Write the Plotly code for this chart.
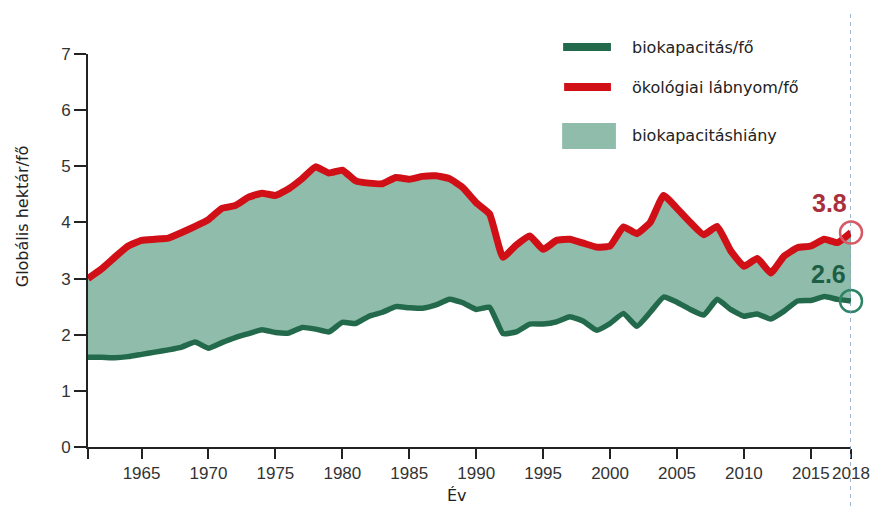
import plotly.graph_objects as go

# year-by-year values
years = list(range(1961, 2019))
biocapacity = [
    1.60, 1.60, 1.59, 1.61, 1.65, 1.69, 1.73, 1.78, 1.87, 1.76,
    1.86, 1.95, 2.02, 2.09, 2.04, 2.03, 2.13, 2.10, 2.05, 2.22,
    2.20, 2.33, 2.40, 2.50, 2.48, 2.47, 2.53, 2.63, 2.57, 2.45,
    2.49, 2.02, 2.05, 2.19, 2.19, 2.23, 2.32, 2.24, 2.08, 2.20,
    2.38, 2.15, 2.40, 2.67, 2.58, 2.45, 2.35, 2.63, 2.45, 2.33,
    2.37, 2.28, 2.42, 2.60, 2.61, 2.68, 2.63, 2.60,
]
footprint = [
    3.00, 3.17, 3.38, 3.58, 3.68, 3.70, 3.72, 3.82, 3.93, 4.05,
    4.25, 4.30, 4.45, 4.52, 4.48, 4.60, 4.78, 4.99, 4.88, 4.93,
    4.74, 4.70, 4.69, 4.80, 4.77, 4.82, 4.83, 4.78, 4.62, 4.35,
    4.15, 3.38, 3.60, 3.76, 3.52, 3.68, 3.70, 3.63, 3.56, 3.58,
    3.92, 3.80, 4.00, 4.48, 4.25, 4.00, 3.78, 3.93, 3.50, 3.22,
    3.36, 3.10, 3.40, 3.55, 3.58, 3.70, 3.64, 3.82,
]
x_ticks = [1961, 1965, 1970, 1975, 1980, 1985, 1990, 1995, 2000, 2005, 2010, 2015, 2018]
x_labels = [""] + [str(v) for v in x_ticks[1:]]
y_ticks = [0, 1, 2, 3, 4, 5, 6, 7]

legend_names = ["biokapacitás/fő", "ökológiai lábnyom/fő", "biokapacitáshiány"]

GREEN = "#236a4c"
RED = "#d10f16"
FILL = "#8fbcab"

# the page body has an 8px margin, so the figure sits at (8, 8) on screen
OFF = 8
W, H = 882 - OFF, 506 - OFF
# plot area in screen pixels: x 88..854, y 54..447
L, R, T, B = 88 - OFF, W - (854 - OFF), 54 - OFF, H - (447 - OFF)
PW, PH = W - L - R, H - T - B


def px(x, y):
    # screen pixel -> paper coordinates
    return (x - OFF - L) / PW, (H - B - (y - OFF)) / PH


fig = go.Figure()

# deficit area between the two curves
fig.add_trace(go.Scatter(x=years, y=biocapacity, mode="lines",
                         line=dict(width=0, shape="spline", smoothing=0.4),
                         showlegend=False, hoverinfo="skip"))
fig.add_trace(go.Scatter(x=years, y=footprint, mode="lines", fill="tonexty",
                         fillcolor=FILL, line=dict(width=0, shape="spline", smoothing=0.4),
                         showlegend=False, hoverinfo="skip"))

fig.add_trace(go.Scatter(x=years, y=biocapacity, mode="lines", name=legend_names[0],
                         line=dict(color=GREEN, width=5.5, shape="spline", smoothing=0.4),
                         showlegend=False))
fig.add_trace(go.Scatter(x=years, y=footprint, mode="lines", name=legend_names[1],
                         line=dict(color=RED, width=7, shape="spline", smoothing=0.4),
                         showlegend=False))

# end-point rings
fig.add_trace(go.Scatter(x=[years[-1]], y=[footprint[-1]], mode="markers",
                         marker=dict(size=22, color="rgba(0,0,0,0)",
                                     line=dict(color="#d65a66", width=2.5)),
                         cliponaxis=False, showlegend=False))
fig.add_trace(go.Scatter(x=[years[-1]], y=[biocapacity[-1]], mode="markers",
                         marker=dict(size=22, color="rgba(0,0,0,0)",
                                     line=dict(color="#2e8566", width=2.5)),
                         cliponaxis=False, showlegend=False))

shapes = [
    dict(type="line", xref="x", yref="paper", x0=years[-1], x1=years[-1],
         y0=px(0, 506)[1], y1=px(0, 12)[1],
         line=dict(color="#7f9fc0", width=1.5, dash="4px,4px")),
]
# hand-drawn legend
x0, y0 = px(565, 47)
x1, _ = px(613, 47)
shapes.append(dict(type="line", xref="paper", yref="paper", x0=x0, x1=x1, y0=y0, y1=y0,
                   line=dict(color=GREEN, width=8)))
x0, y0 = px(566, 87)
x1, _ = px(613, 87)
shapes.append(dict(type="line", xref="paper", yref="paper", x0=x0, x1=x1, y0=y0, y1=y0,
                   line=dict(color=RED, width=8)))
x0, y0 = px(564, 149)
x1, y1 = px(618, 123)
shapes.append(dict(type="rect", xref="paper", yref="paper", x0=x0, x1=x1, y0=y0, y1=y1,
                   fillcolor=FILL, line=dict(width=0)))

annotations = []
for name, ypix in zip(legend_names, [47, 87, 136]):
    ax, ay = px(632, ypix)
    annotations.append(dict(xref="paper", yref="paper", x=ax, y=ay, text=name,
                            showarrow=False, xanchor="left", yanchor="middle",
                            font=dict(family="DejaVu Sans", size=16, color="#222")))

annotations.append(dict(x=years[-1], y=footprint[-1], text=f"{footprint[-1]:.1f}",
                        showarrow=False, xshift=-22, yshift=30,
                        xanchor="center", yanchor="middle",
                        font=dict(family="Liberation Sans", size=25, color="#a8303c",
                                  weight="bold")))
annotations.append(dict(x=years[-1], y=biocapacity[-1], text=f"{biocapacity[-1]:.1f}",
                        showarrow=False, xshift=-23, yshift=27,
                        xanchor="center", yanchor="middle",
                        font=dict(family="Liberation Sans", size=25, color="#1d5e45",
                                  weight="bold")))

ax, ay = px(22, 216)
annotations.append(dict(xref="paper", yref="paper", x=ax, y=ay, text="Globális hektár/fő",
                        textangle=-90, showarrow=False, xanchor="center", yanchor="middle",
                        font=dict(family="DejaVu Sans", size=16, color="#222")))
ax, ay = px(458, 495)
annotations.append(dict(xref="paper", yref="paper", x=ax, y=ay, text="Év",
                        showarrow=False, xanchor="center", yanchor="middle",
                        font=dict(family="DejaVu Sans", size=16, color="#222")))

fig.update_layout(
    width=W, height=H,
    margin=dict(l=L, r=R, t=T, b=B),
    paper_bgcolor="white", plot_bgcolor="white",
    font=dict(family="Liberation Sans", size=17, color="#333"),
    shapes=shapes, annotations=annotations,
    xaxis=dict(range=[years[0], years[-1]], tickvals=x_ticks, ticktext=x_labels,
               showgrid=False, zeroline=False, showline=True, linecolor="#222",
               linewidth=2, ticks="outside", ticklen=10, tickwidth=2, tickcolor="#222"),
    yaxis=dict(range=[0, 7], tickvals=y_ticks, showgrid=False, zeroline=False,
               showline=True, linecolor="#222", linewidth=2, ticks="outside",
               ticklen=12, tickwidth=2, tickcolor="#222"),
)

fig.write_html("out.html")
